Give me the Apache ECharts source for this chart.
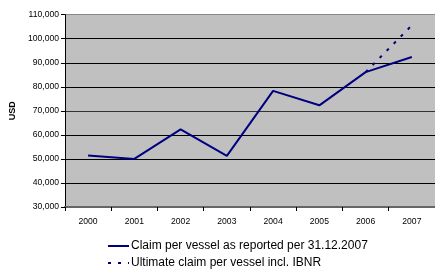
<!DOCTYPE html>
<html>
<head>
<meta charset="utf-8">
<script src="https://cdn.jsdelivr.net/npm/echarts@6/dist/echarts.min.js"></script>
<style>
  html, body { margin: 0; padding: 0; background: #fff; }
  #chart { width: 435px; height: 272px; }
</style>
</head>
<body>
<div id="chart"></div>
<script>
    const years = ['2000', '2001', '2002', '2003', '2004', '2005', '2006', '2007'];
    const reported = [51400, 50000, 62300, 51300, 78300, 72300, 86100, 92400];
    const ultimate = [null, null, null, null, null, null, 86100, 105600];
    const seriesNames = ['Claim per vessel as reported per 31.12.2007', 'Ultimate claim per vessel incl. IBNR'];

    const navy = '#000080';
    const font = 'Arial, "Liberation Sans", sans-serif';

    const chart = echarts.init(document.getElementById('chart'), null, { renderer: 'canvas' });

    chart.setOption({
        animation: false,
        textStyle: { fontFamily: font },
        grid: {
            left: 58.5, right: -3, top: 14.7, bottom: 65,
            show: true,
            backgroundColor: '#c0c0c0',
            borderWidth: 0
        },
        legend: {
            orient: 'vertical',
            left: 107,
            top: 240,
            padding: 0,
            height: 40,
            itemWidth: 21,
            itemHeight: 12,
            itemGap: 5,
            itemStyle: { opacity: 0 },
            textStyle: { fontSize: 12, color: '#000', fontFamily: font, padding: [0, 0, 0, -3] },
            data: seriesNames
        },
        xAxis: {
            type: 'category',
            data: years,
            boundaryGap: true,
            axisLine: { show: true, lineStyle: { color: '#666', width: 2 } },
            axisTick: { show: true, length: 4, lineStyle: { color: '#000' } },
            axisLabel: { fontSize: 8.6, color: '#000', margin: 10 },
            splitLine: { show: false }
        },
        yAxis: {
            type: 'value',
            min: 30000,
            max: 110000,
            interval: 10000,
            name: 'USD',
            nameLocation: 'middle',
            nameGap: 42,
            nameRotate: 90,
            nameTextStyle: { fontSize: 9, fontWeight: 'bold', color: '#000' },
            axisLine: { show: true, lineStyle: { color: '#000', width: 1 } },
            axisTick: { show: true, length: 4, inside: false, lineStyle: { color: '#000' } },
            axisLabel: {
                fontSize: 8.6, color: '#000', margin: 6,
                formatter: function (v) { return v.toLocaleString('en-US'); }
            },
            splitLine: {
                show: true,
                lineStyle: {
                    color: ['#666', '#000', '#000', '#000', '#333', '#000', '#000', '#000', '#888'],
                    width: 1
                }
            }
        },
        series: [
            {
                name: seriesNames[0],
                type: 'line',
                data: reported,
                symbol: 'none',
                lineStyle: { color: navy, width: 2 },
                itemStyle: { color: navy },
                z: 3
            },
            {
                name: seriesNames[1],
                type: 'line',
                data: ultimate,
                symbol: 'none',
                connectNulls: false,
                lineStyle: { color: navy, width: 2, type: [3, 7], dashOffset: 0 },
                itemStyle: { color: navy },
                z: 2
            }
        ]
    });
</script>
</body>
</html>
